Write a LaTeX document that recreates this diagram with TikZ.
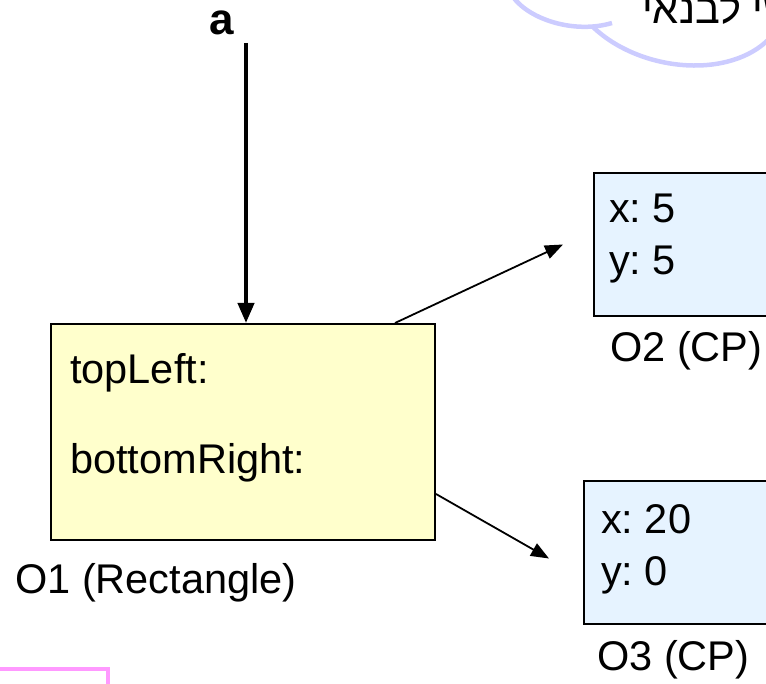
\documentclass[tikz,border=0pt]{standalone}
\usepackage{fontspec}
\setmainfont{Liberation Sans}
\newfontfamily\hebfont[Script=Hebrew]{Liberation Sans}
\TeXXeTstate=1
\frenchspacing
\usetikzlibrary{arrows.meta,calc}
\newcommand{\bigtext}{\fontsize{41.5}{48}\selectfont}
\definecolor{objyellow}{HTML}{FFFFCC}
\definecolor{objblue}{HTML}{E6F3FF}
\definecolor{cloudline}{HTML}{CCCCFF}
\definecolor{notepink}{HTML}{FF99FF}

\begin{document}
\begin{tikzpicture}[x=1pt,y=-1pt,
    obj/.style={draw=black, line width=2pt, anchor=north west, inner sep=0pt},
    field/.style={font=\bigtext, inner sep=0pt, anchor=base west},
    ref/.style={line width=1.8pt, -{Triangle[width=14pt,length=18pt]}}]
  \useasboundingbox (0,0) rectangle (766,684);
  \clip (0,0) rectangle (766,684);
  % thought cloud, cut by the slide edge
  \draw[cloudline, line width=4.5pt] (513,-3) .. controls (530,20) and (575,34) .. (612,23);
  \draw[cloudline, line width=4.5pt] (593,27) .. controls (640,72) and (730,80) .. (770,38);
  \node[field, font=\bigtext\hebfont] (thought) at (642,24) {\beginR שי לבנאי\endR};
  % note box, bottom left
  \draw[notepink, line width=4pt] (-5,669) -| (108,690);
  % objects
  \node[obj, fill=objyellow, minimum width=384pt, minimum height=216pt] (o1) at (50,323) {};
  \node[obj, fill=objblue, minimum width=250pt, minimum height=143pt] (o2) at (593,172) {};
  \node[obj, fill=objblue, minimum width=250pt, minimum height=143pt] (o3) at (583,480) {};
  \node[field] (o1f1) at (70,384) {topLeft:};
  \node[field] (o1f2) at (70,473) {bottomRight:};
  \node[field] (o1name) at (15,593) {O1 (Rectangle)};
  \node[field] (o2f1) at (609,223) {x: 5};
  \node[field] (o2f2) at (609,275) {y: 5};
  \node[field] (o2name) at (610,362) {O2 (CP)};
  \node[field] (o3f1) at (601,533) {x: 20};
  \node[field] (o3f2) at (601,585) {y: 0};
  \node[field] (o3name) at (597,670) {O3 (CP)};
  % references
  \node[field, font=\fontsize{44}{50}\selectfont\bfseries] (a) at (209,35) {a};
  \coordinate (aptr) at (246,43);
  \draw[line width=4pt, -{Triangle[width=16pt,length=20pt]}] (aptr) -- (aptr |- o1.north);
  \draw[ref] ($(o1.north west)+(345,0)$) -- ($(o2.west)+(-30,0)$);
  \draw[ref] ($(o1.south east)+(0,-47)$) -- ($(o3.west)+(-34,6)$);
\end{tikzpicture}
\end{document}
